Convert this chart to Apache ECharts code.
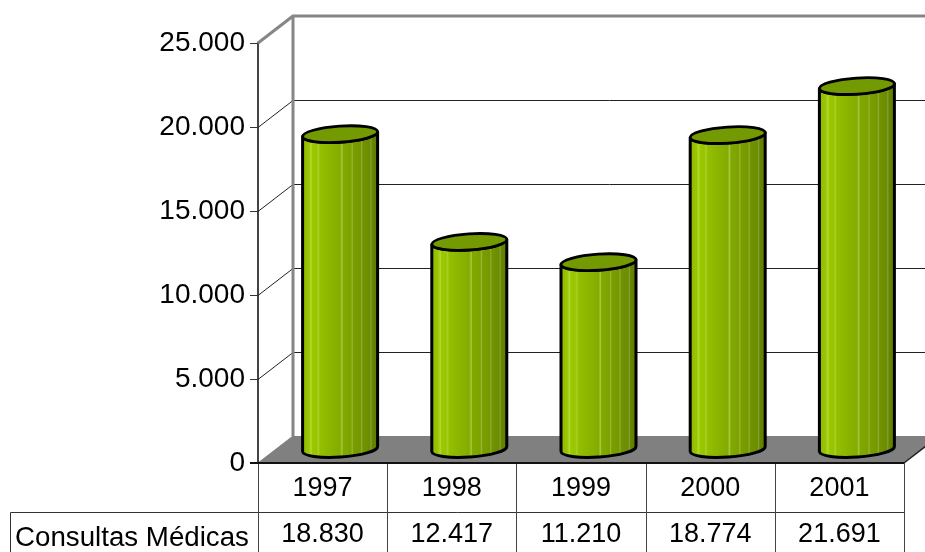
<!DOCTYPE html>
<html><head><meta charset="utf-8">
<style>html,body{margin:0;padding:0;background:#fff}#c{width:925px;height:552px}</style>
<script src="https://cdn.jsdelivr.net/npm/echarts@6/dist/echarts.min.js"></script>
</head><body><div id="c"></div>
<script>
const categories = ['1997','1998','1999','2000','2001'];
const values = [18830,12417,11210,18774,21691];
const valueLabels = ['18.830','12.417','11.210','18.774','21.691'];
const yTicks = [0,5000,10000,15000,20000,25000];
const seriesName = 'Consultas Médicas';

const FONT = '"Liberation Sans", Arial, sans-serif';
const FS = 28, FS_TABLE = 27, FS_NAME = 27.7;
const DX = 35, DY = 27;
const RX = 37.5, RY = 8, TILT = 2.5;
const GL = 258, GR = 904, GT = 43, GB = 463;
const ROW1 = 512.5, TB = 560, TL = 10.5;

const bodyGrad = {type:'linear',x:0,y:0,x2:1,y2:0,colorStops:[
 {offset:0,color:'#88b000'},{offset:.03,color:'#90ba00'},{offset:.10,color:'#9ac600'},{offset:.13,color:'#b4d838'},{offset:.145,color:'#9cc800'},
 {offset:.2,color:'#98c400'},{offset:.225,color:'#aad028'},{offset:.24,color:'#94c000'},{offset:.38,color:'#8ab400'},{offset:.5,color:'#84ac00'},
 {offset:.525,color:'#a8c840'},{offset:.54,color:'#82a800'},{offset:.64,color:'#7ca200'},{offset:.655,color:'#98b838'},{offset:.67,color:'#7a9e00'},
 {offset:.76,color:'#759800'},{offset:.775,color:'#90ac38'},{offset:.79,color:'#729400'},{offset:.88,color:'#6a8c00'},{offset:.895,color:'#88a038'},
 {offset:.91,color:'#668600'},{offset:1,color:'#5c7a00'}]};

function seg(x1,y1,x2,y2,color,w){
  return {type:'line',shape:{x1,y1,x2,y2},style:{stroke:color,lineWidth:w}};
}

const option = {
  animation:false,
  backgroundColor:'#fff',
  grid:{left:GL,top:GT,width:GR-GL,height:GB-GT,containLabel:false},
  xAxis:{type:'category',data:categories,
    axisLine:{show:false},axisTick:{show:false},splitLine:{show:false},
    axisLabel:{color:'#000',fontFamily:FONT,fontSize:FS_TABLE,margin:12}},
  yAxis:{type:'value',min:0,max:25000,interval:5000,
    splitLine:{show:false},
    axisLine:{show:true,lineStyle:{color:'#444',width:2}},
    axisTick:{show:true,length:8,lineStyle:{color:'#333',width:1}},
    axisLabel:{color:'#000',fontFamily:FONT,fontSize:FS,margin:13,
      formatter:v=>v===0?'0':String(v).replace(/(\d)(\d{3})$/,'$1.$2')}},
  series:[
    { // walls and floor
      type:'custom',silent:true,clip:false,z:1,data:[0],
      renderItem(p,api){
        const w=api.size([1,0])[0];
        const x0=api.coord([0,0])[0]-w/2;
        const x1=x0+w*categories.length;
        const y0=api.coord([0,0])[1], yT=api.coord([0,25000])[1];
        const ch=[];
        yTicks.slice(1,-1).forEach(t=>{
          const y=Math.round(api.coord([0,t])[1])+.5;
          ch.push(seg(x0,y,x0+DX,y-DY,'#222',1));
          ch.push(seg(x0+DX,y-DY,x1+DX,y-DY,'#222',1));
        });
        ch.push({type:'polygon',shape:{points:[[x0,y0],[x1,y0],[x1+DX,y0-DY],[x0+DX,y0-DY]]},style:{fill:'#808080'}});
        ch.push(seg(x0,yT,x0+DX,yT-DY,'#868686',3));
        ch.push(seg(x0+DX-1,yT-DY,x1+DX,yT-DY,'#868686',3));
        ch.push(seg(x0+DX,yT-DY,x0+DX,y0-DY,'#868686',3));
        ch.push(seg(x0,y0,x0+DX,y0-DY,'#808080',1));
        ch.push(seg(x1,y0,x1+DX,y0-DY,'#222',1.5));
        return {type:'group',children:ch};
      }
    },
    { // cylinders
      type:'custom',name:seriesName,clip:false,z:3,
      data:values.map((v,i)=>[i,v]),encode:{x:0,y:1},
      renderItem(p,api){
        const c=api.coord([api.value(0),api.value(1)]);
        const b=api.coord([api.value(0),0]);
        const cx=c[0]+DX/2, ct=c[1]-DY/2+1, cb=b[1]-DY/2-.5;
        const L=cx-RX, R=cx+RX;
        const rot=Math.atan2(-TILT,RX)*180/Math.PI;
        const body=`M${L} ${ct+TILT}L${L} ${cb+TILT}A${RX} ${RY} ${rot} 0 0 ${R} ${cb-TILT}L${R} ${ct-TILT}A${RX} ${RY} ${rot} 0 1 ${L} ${ct+TILT}Z`;
        const top=`M${L} ${ct+TILT}A${RX} ${RY} ${rot} 0 1 ${R} ${ct-TILT}A${RX} ${RY} ${rot} 0 1 ${L} ${ct+TILT}Z`;
        return {type:'group',children:[
          {type:'path',shape:{pathData:body},style:{fill:bodyGrad,stroke:'#000',lineWidth:3,lineJoin:'round'}},
          {type:'path',shape:{pathData:top},style:{fill:'#739a00',stroke:'#000',lineWidth:2.8}}
        ]};
      }
    },
    { // data table
      type:'custom',silent:true,clip:false,z:4,data:[0],
      renderItem(p,api){
        const w=api.size([1,0])[0];
        const x0=api.coord([0,0])[0]-w/2, x1=x0+w*categories.length, y0=api.coord([0,0])[1];
        const ch=[];
        ch.push(seg(TL,ROW1,x1,ROW1,'#333',1));
        ch.push(seg(TL,ROW1,TL,TB,'#333',1));
        for(let i=0;i<=categories.length;i++){
          const x=Math.round(x0+i*w)+.5;
          ch.push(seg(x,y0,x,TB,'#444',1));
        }
        ch.push(seg(x0-8,y0,x1,y0,'#111',2));
        valueLabels.forEach((t,i)=>{
          ch.push({type:'text',x:x0+(i+.5)*w,y:535,style:{text:t,fill:'#000',font:`${FS_TABLE}px ${FONT}`,textAlign:'center',textVerticalAlign:'middle'}});
        });
        ch.push({type:'text',x:15,y:538,style:{text:seriesName,fill:'#000',font:`${FS_NAME}px ${FONT}`,textAlign:'left',textVerticalAlign:'middle'}});
        return {type:'group',children:ch};
      }
    }
  ]
};
echarts.init(document.getElementById('c'),null,{renderer:'canvas'}).setOption(option);
</script></body></html>
